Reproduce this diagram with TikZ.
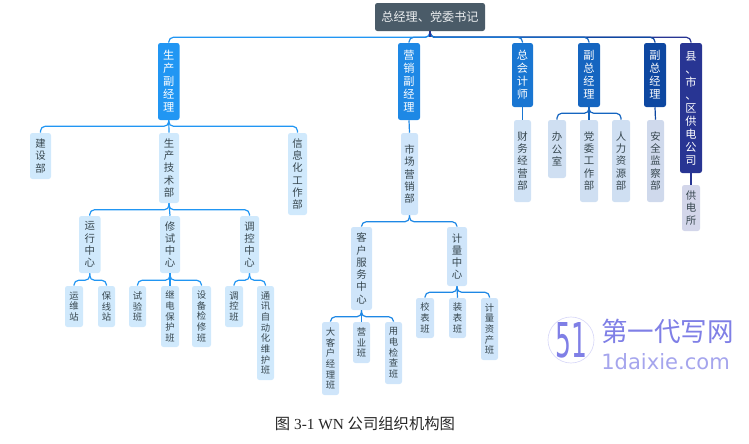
\documentclass[tikz,border=0pt]{standalone}
\usepackage{graphicx}
\usepackage{fontspec}
\setmainfont{Liberation Serif}
\newfontfamily\cjk{Noto Sans CJK SC}
\newfontfamily\wmfont{DejaVu Sans}
\definecolor{cRoot}{HTML}{4A5B68}
\definecolor{cA}{HTML}{2196F3}
\definecolor{cB}{HTML}{1E88E5}
\definecolor{cC}{HTML}{1976D2}
\definecolor{cD}{HTML}{1565C0}
\definecolor{cE}{HTML}{0D47A1}
\definecolor{cF}{HTML}{283593}
\definecolor{lA}{HTML}{D0E9FC}
\definecolor{lB}{HTML}{CFE5FA}
\definecolor{lC}{HTML}{D0E2F5}
\definecolor{lD}{HTML}{CFDFF2}
\definecolor{lE}{HTML}{CFD9EC}
\definecolor{lF}{HTML}{D3D6EA}
\definecolor{ink}{HTML}{37474F}
\definecolor{wm}{HTML}{7F7FE6}
\tikzset{
  bx/.style={rectangle,rounded corners=1.8pt,inner sep=0pt,align=center},
  head/.style={bx,text=white,font=\cjk\fontsize{8.4}{9.75}\selectfont},
  mid/.style={bx,text=ink,font=\cjk\fontsize{7.8}{9.2}\selectfont},
  leaf/.style={bx,text=ink,font=\cjk\fontsize{7}{8}\selectfont},
  conn/.style={line width=.9pt,rounded corners=3.5pt},
}
% name, x1, y1, x2, y2, style, text
\newcommand\bx[7]{\node[#6,minimum width={(#4-#2)*0.75pt},minimum height={(#5-#3)*0.75pt}] (#1) at ({(#2+#4)/2},{(#3+#5)/2}) {#7};}
% parent, child, drop to bus, colour
\newcommand\conn[4]{\draw[conn,#4] (#1.south) -- ++(0,#3) -| (#2.north);}
\newcommand\sconn[3]{\draw[conn,#3] (#1.south) -- (#2.north);}
\begin{document}
\begin{tikzpicture}[x=.75pt,y=-.75pt]
\useasboundingbox (0,0) rectangle (749,443);
% nodes
\bx{root}{375}{3}{485}{31}{bx,fill=cRoot,text={rgb,255:red,235;green,238;blue,240},font=\cjk\fontsize{9.1}{11}\selectfont}{总经理、党委书记}
\bx{a}{158}{43}{179.5}{120}{head,fill=cA}{生\\产\\副\\经\\理}
\bx{b}{398}{43}{420}{120}{head,fill=cB}{营\\销\\副\\经\\理}
\bx{c}{512}{43}{533}{107}{head,fill=cC}{总\\会\\计\\师}
\bx{d}{578}{43}{600}{107}{head,fill=cD}{副\\总\\经\\理}
\bx{e}{644}{43}{666}{107}{head,fill=cE}{副\\总\\经\\理}
\bx{f}{680}{43}{702}{173}{head,fill=cF}{县\\、\\市\\、\\区\\供\\电\\公\\司}
\bx{a1}{30}{133}{51}{179}{mid,fill=lA}{建\\设\\部}
\bx{a2}{159}{133}{179}{203}{mid,fill=lA}{生\\产\\技\\术\\部}
\bx{a3}{288}{133}{307}{215}{mid,fill=lA}{信\\息\\化\\工\\作\\部}
\bx{b1}{401}{133}{418}{215}{mid,fill=lB}{市\\场\\营\\销\\部}
\bx{c1}{514}{120}{531}{202}{mid,fill=lC}{财\\务\\经\\营\\部}
\bx{d1}{548}{120}{566}{178}{mid,fill=lD}{办\\公\\室}
\bx{d2}{580}{120}{598}{202}{mid,fill=lD}{党\\委\\工\\作\\部}
\bx{d3}{612}{120}{630}{202}{mid,fill=lD}{人\\力\\资\\源\\部}
\bx{e1}{647}{120}{664}{202}{mid,fill=lE}{安\\全\\监\\察\\部}
\bx{f1}{682}{185}{700}{231}{mid,fill=lF}{供\\电\\所}
\bx{p1}{79}{216}{100.5}{273}{mid,fill=lA}{运\\行\\中\\心}
\bx{p2}{160}{216}{180}{273}{mid,fill=lA}{修\\试\\中\\心}
\bx{p3}{240}{216}{259}{273}{mid,fill=lA}{调\\控\\中\\心}
\bx{q1}{65}{286}{83}{327}{leaf,fill=lA}{运\\维\\站}
\bx{q2}{98}{286}{115}{327}{leaf,fill=lA}{保\\线\\站}
\bx{q3}{129}{286}{146}{327}{leaf,fill=lA}{试\\验\\班}
\bx{q4}{161}{286}{179}{347}{leaf,fill=lA}{继\\电\\保\\护\\班}
\bx{q5}{192}{286}{211}{347}{leaf,fill=lA}{设\\备\\检\\修\\班}
\bx{q6}{225}{286}{243}{327}{leaf,fill=lA}{调\\控\\班}
\bx{q7}{257}{286}{274}{380}{leaf,fill=lA}{通\\讯\\自\\动\\化\\维\\护\\班}
\bx{r1}{351}{227}{372}{310}{mid,fill=lB}{客\\户\\服\\务\\中\\心}
\bx{r2}{447}{227}{467}{286}{mid,fill=lB}{计\\量\\中\\心}
\bx{s1}{322}{322}{339}{395}{leaf,fill=lB}{大\\客\\户\\经\\理\\班}
\bx{s2}{353}{322}{370}{363}{leaf,fill=lB}{营\\业\\班}
\bx{s3}{385}{322}{402}{384}{leaf,fill=lB}{用\\电\\检\\查\\班}
\bx{s4}{416}{298}{434}{338}{leaf,fill=lB}{校\\表\\班}
\bx{s5}{449}{298}{466}{338}{leaf,fill=lB}{装\\表\\班}
\bx{s6}{481}{298}{498}{360}{leaf,fill=lB}{计\\量\\资\\产\\班}
% connectors from the root
\conn{root}{a}{6}{cA}
\conn{root}{b}{6}{cB}
\conn{root}{f}{6}{cF}
\conn{root}{e}{6}{cE}
\conn{root}{d}{6}{cD}
\conn{root}{c}{6}{cC}
\draw[conn,cF] (root.south) -- ++(0,6);
% production branch
\conn{a}{a1}{6}{cA}
\conn{a}{a3}{6}{cA}
\sconn{a}{a2}{cA}
\conn{a2}{p1}{6.5}{cA}
\conn{a2}{p3}{6.5}{cA}
\sconn{a2}{p2}{cA}
\conn{p1}{q1}{7}{cA}
\conn{p1}{q2}{7}{cA}
\conn{p2}{q3}{7}{cA}
\conn{p2}{q5}{7}{cA}
\sconn{p2}{q4}{cA}
\conn{p3}{q6}{7}{cA}
\conn{p3}{q7}{7}{cA}
% marketing branch
\sconn{b}{b1}{cB}
\conn{b1}{r1}{6.5}{cB}
\conn{b1}{r2}{6.5}{cB}
\conn{r1}{s1}{6.5}{cB}
\conn{r1}{s3}{6.5}{cB}
\sconn{r1}{s2}{cB}
\conn{r2}{s4}{6}{cB}
\conn{r2}{s6}{6}{cB}
\sconn{r2}{s5}{cB}
% the others
\sconn{c}{c1}{cC}
\conn{d}{d1}{6}{cD}
\conn{d}{d3}{6}{cD}
\sconn{d}{d2}{cD}
\sconn{e}{e1}{cE}
\sconn{f}{f1}{cF}
% caption
\node[inner sep=0pt,font=\fontsize{11.5}{13}\selectfont,text=black!85] (cap) at (365,424) {{\cjk 图} 3-1 WN {\cjk 公司组织机构图}};
% watermark
\node[circle,draw=wm!30,line width=.5pt,minimum size=34.5pt,inner sep=0pt] (wmc) at (571,340) {};
\node[inner sep=0pt,text=wm,font=\wmfont\fontsize{36}{40}\selectfont] (wm5) at (wmc) {\scalebox{.52}[1]{51}};
\node[inner sep=0pt,anchor=west,text=wm,font=\cjk\fontsize{19.9}{22}\selectfont] (wm1) at (601,331) {第一代写网};
\node[inner sep=0pt,anchor=west,text=wm!70,font=\wmfont\fontsize{15.8}{18}\selectfont] (wm2) at (601,362) {1daixie.com};
\end{tikzpicture}
\end{document}
